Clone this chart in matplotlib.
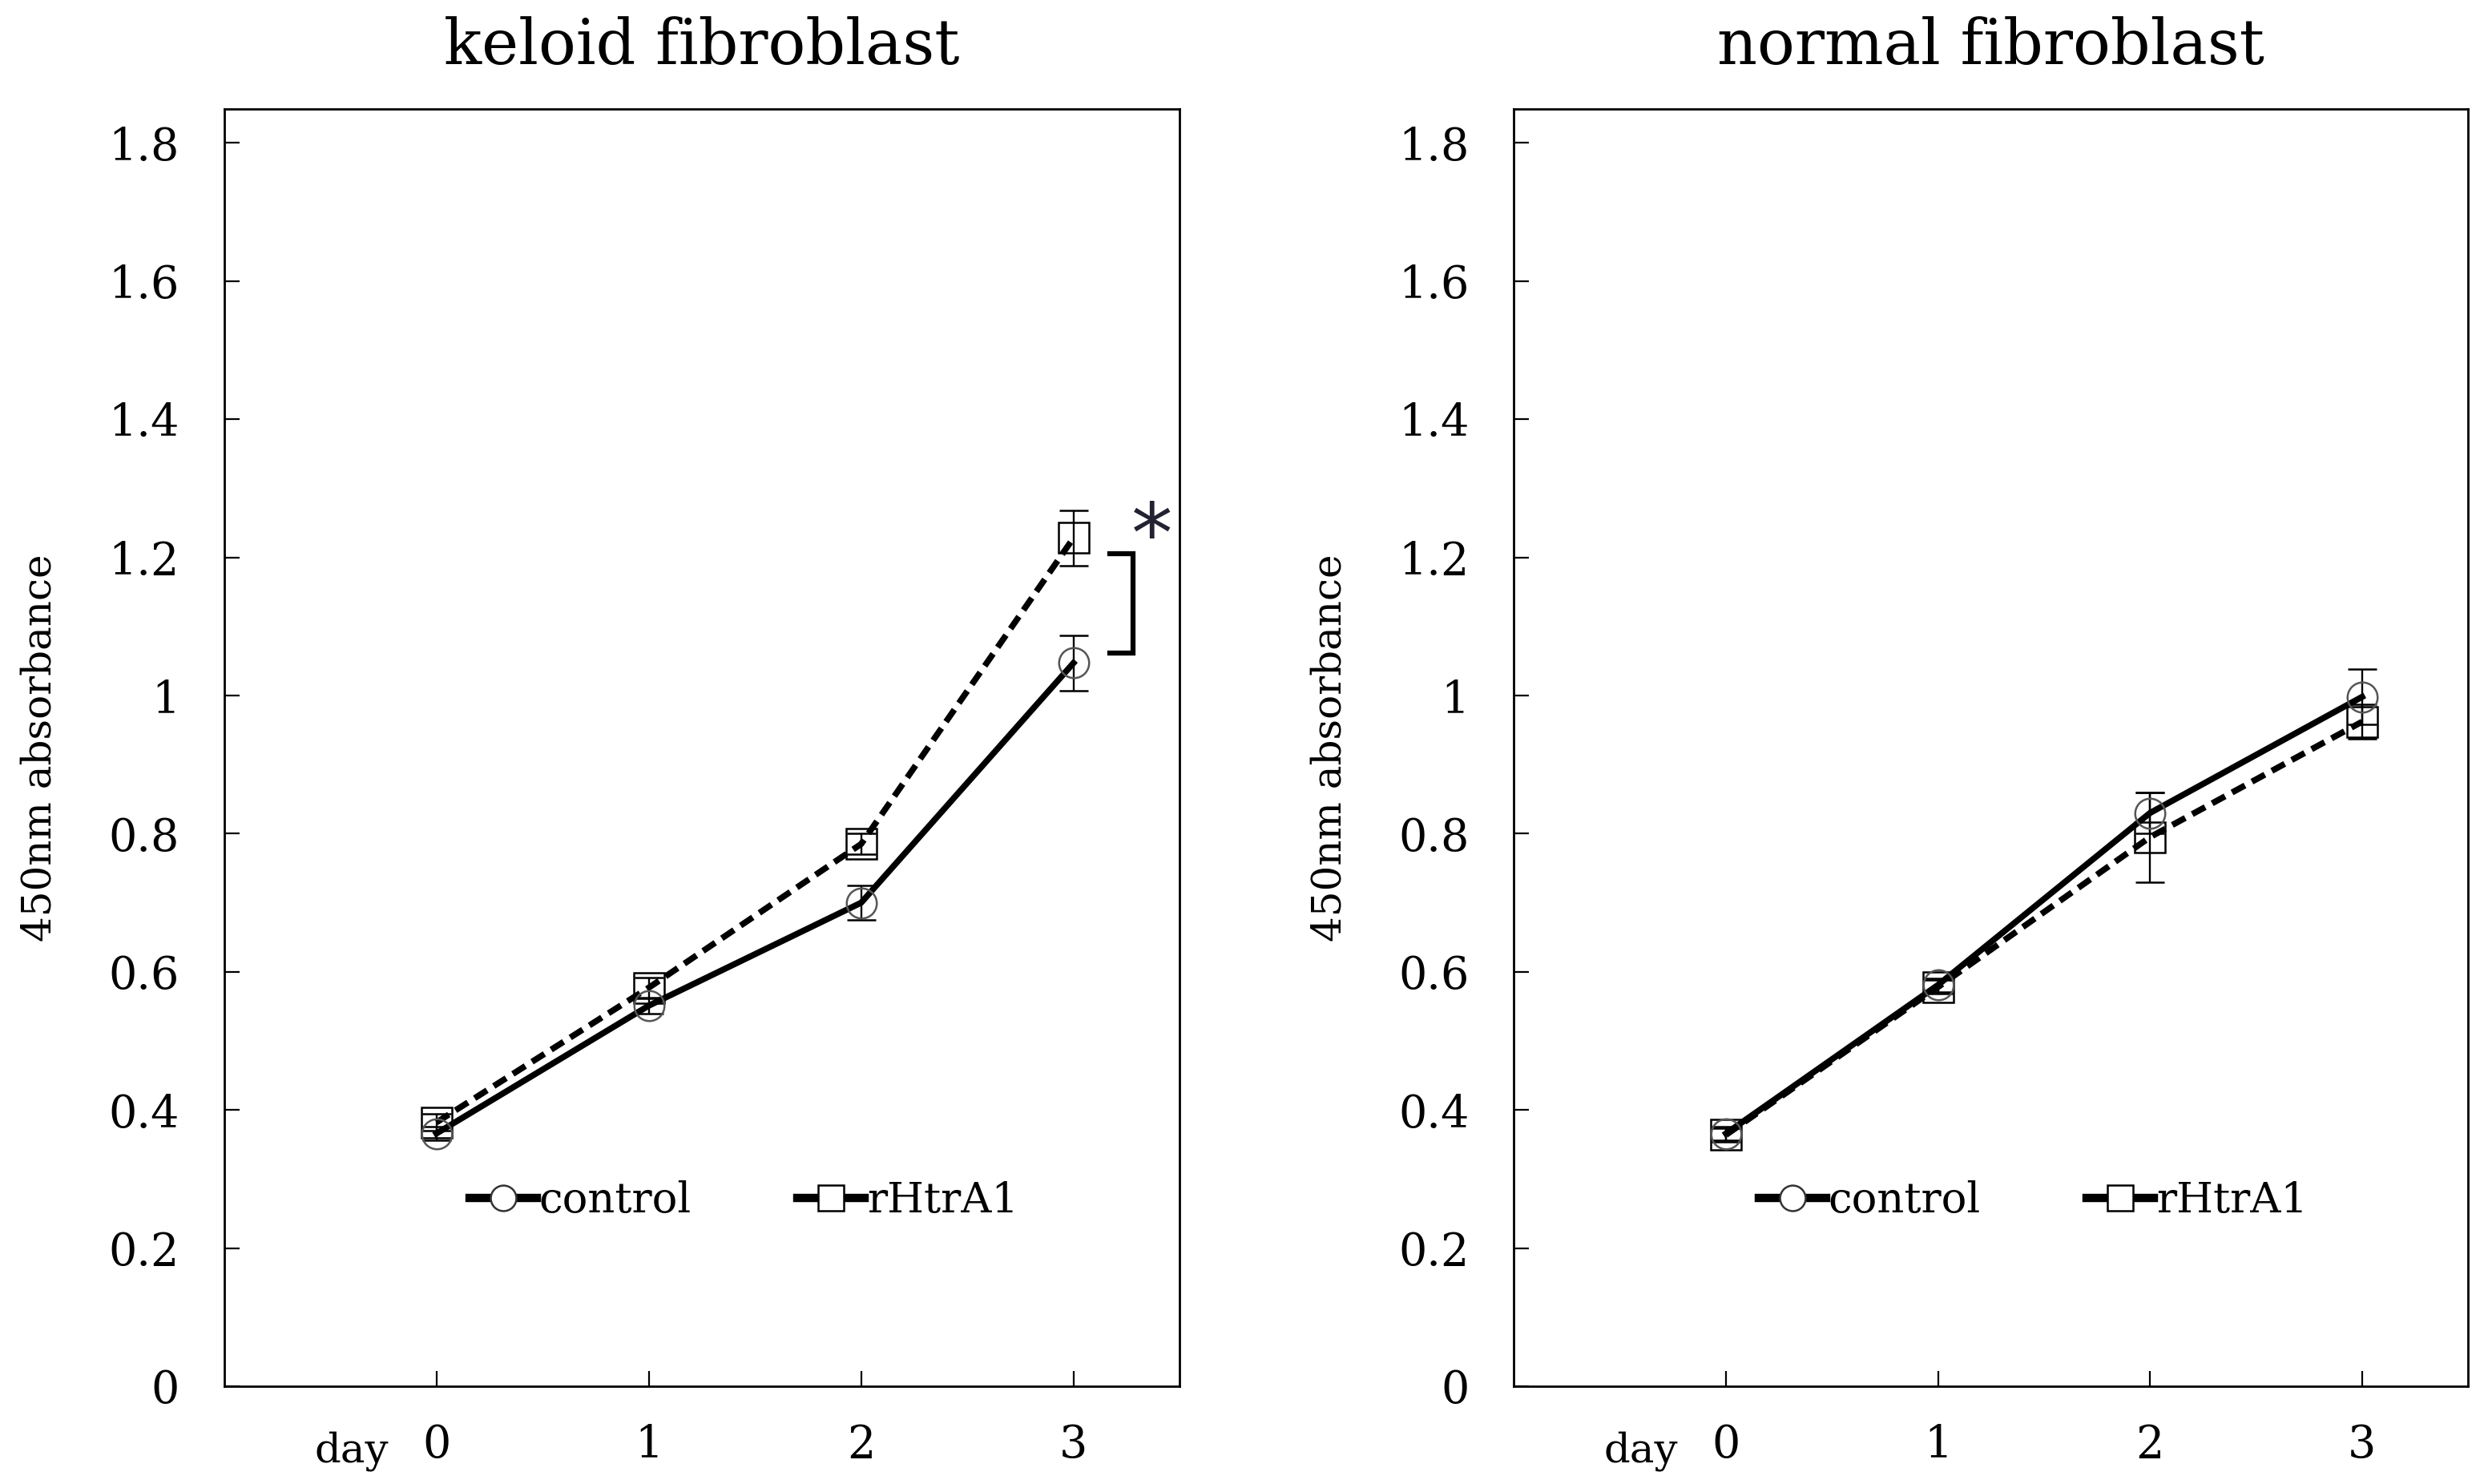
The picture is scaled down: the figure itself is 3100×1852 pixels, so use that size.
import matplotlib
matplotlib.use("Agg")
import matplotlib.pyplot as plt
from matplotlib.lines import Line2D
import matplotlib.transforms as mtransforms

days = [0, 1, 2, 3]
titles = ["keloid fibroblast", "normal fibroblast"]
keloid_control = [0.366, 0.551, 0.700, 1.047]
keloid_control_err = [0.010, 0.012, 0.025, 0.040]
keloid_rhtra1 = [0.382, 0.577, 0.785, 1.228]
keloid_rhtra1_err = [0.012, 0.015, 0.015, 0.040]
normal_control = [0.366, 0.581, 0.830, 0.998]
normal_control_err = [0.010, 0.010, 0.030, 0.040]
normal_rhtra1 = [0.364, 0.578, 0.795, 0.962]
normal_rhtra1_err = [0.010, 0.010, 0.065, 0.025]
yticks = [0, 0.2, 0.4, 0.6, 0.8, 1.0, 1.2, 1.4, 1.6, 1.8]
ytick_labels = ["0", "0.2", "0.4", "0.6", "0.8", "1", "1.2", "1.4", "1.6", "1.8"]
xtick_labels = ["0", "1", "2", "3"]
legend_labels = ["control", "rHtrA1"]
ylabel = "450nm absorbance"

plt.rcParams["font.family"] = ["DejaVu Serif"]

fig = plt.figure(figsize=(31, 18.52), dpi=100)
axes = [fig.add_axes([0.0902, 0.0658, 0.3847, 0.8608]),
        fig.add_axes([0.6095, 0.0658, 0.3841, 0.8608])]

series = [
    (keloid_control, keloid_control_err, keloid_rhtra1, keloid_rhtra1_err),
    (normal_control, normal_control_err, normal_rhtra1, normal_rhtra1_err),
]

LW = 5.5
MS = 27
for ax, title, (c, ce, r, re) in zip(axes, titles, series):
    ax.errorbar(days, r, yerr=re, color="black", lw=LW, dashes=(2.4, 1.3),
                marker="s", ms=MS, mfc="none", mec="black", mew=1.8,
                ecolor="black", elinewidth=1.7, capsize=13, capthick=1.7, zorder=3)
    ax.errorbar(days, c, yerr=ce, color="black", lw=LW,
                marker="o", ms=MS, mfc="none", mec="#555555", mew=1.8,
                ecolor="black", elinewidth=1.7, capsize=13, capthick=1.7, zorder=4)
    ax.set_xlim(-1, 3.5)
    ax.set_ylim(0, 1.849)
    ax.set_yticks(yticks)
    ax.set_yticklabels(ytick_labels)
    ax.set_xticks(days)
    ax.set_xticklabels(xtick_labels)
    ax.tick_params(axis="both", direction="in", length=14, width=1.6,
                   labelsize=40, colors="black")
    ax.tick_params(axis="y", pad=40)
    ax.tick_params(axis="x", pad=33)
    for s in ax.spines.values():
        s.set_linewidth(2.0)
    ax.set_title(title, fontsize=56, pad=40)
    ax.set_ylabel(ylabel, fontsize=36, labelpad=44)
    trans = mtransforms.blended_transform_factory(ax.transData, ax.transAxes)
    ax.text(-0.40, -0.0595, "day", transform=trans, ha="center", va="baseline",
            fontsize=37)
    handles = [
        Line2D([], [], color="black", lw=LW + 2, marker="o", ms=MS * 0.85,
               mfc="white", mec="#333333", mew=1.8),
        Line2D([], [], color="black", lw=LW + 2, marker="s", ms=MS * 0.85,
               mfc="white", mec="black", mew=1.8),
    ]
    ax.legend(handles, legend_labels, loc="center", bbox_to_anchor=(0.544, 0.145),
              ncol=2, frameon=False, fontsize=38, handlelength=1.6,
              handletextpad=0.05, columnspacing=2.5)

# significance bracket on keloid panel
ax = axes[0]
bx0, bx1 = 3.17, 3.28
btop, bbot = keloid_rhtra1[3] - 0.023, keloid_control[3] + 0.014
ax.plot([bx0, bx1, bx1, bx0], [btop, btop, bbot, bbot], color="black", lw=4.5,
        solid_joinstyle="miter", clip_on=False)
ax.text(3.37, 1.225, "*", ha="center", va="center", fontsize=74,
        family="DejaVu Sans", color="#222233")

fig.savefig("out.png", dpi=100)
